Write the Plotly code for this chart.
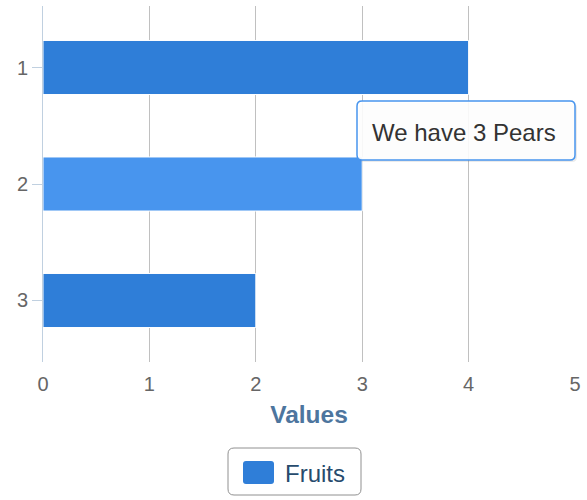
import plotly.graph_objects as go

categories = ["1", "2", "3"]
values = [4, 3, 2]
series_name = "Fruits"
tooltip_text = "We have 3 Pears"
x_ticks = [0, 1, 2, 3, 4, 5]

BASE = "#2f7ed8"
HOVER = "#4895ee"
colors = [HOVER if c == "2" else BASE for c in categories]

W, H = 587, 500
L, R, T, B = 43, 12, 6, 138
PW, PH = W - L - R, H - T - B


def px(x):
    return (x - L) / PW


def py(y):
    return (H - B - y) / PH


def rrect(x0, y0, x1, y1, r):
    # rounded rectangle path in paper coords from pixel coords
    rx, ry = r / PW, r / PH
    a, b, c, d = px(x0), px(x1), py(y0), py(y1)
    return (f"M{a+rx},{c} L{b-rx},{c} Q{b},{c} {b},{c-ry} L{b},{d+ry} Q{b},{d} {b-rx},{d} "
            f"L{a+rx},{d} Q{a},{d} {a},{d+ry} L{a},{c-ry} Q{a},{c} {a+rx},{c} Z")


fig = go.Figure()
fig.add_trace(go.Bar(
    y=categories, x=values, orientation="h", name=series_name,
    marker=dict(color=colors, line=dict(color="white", width=1)),
    showlegend=False, hoverinfo="skip",
))

FONT = "Liberation Sans, Arial, sans-serif"

shapes = [
    # tooltip shadow
    dict(type="path", xref="paper", yref="paper", path=rrect(359, 103, 577, 162, 5),
         fillcolor="rgba(0,0,0,0.08)", line=dict(width=0), layer="above"),
    # tooltip box
    dict(type="path", xref="paper", yref="paper", path=rrect(357, 101, 575, 160, 5),
         fillcolor="rgba(255,255,255,0.9)", line=dict(color=HOVER, width=1.5), layer="above"),
    # legend box
    dict(type="path", xref="paper", yref="paper", path=rrect(228, 448, 361, 495, 6),
         fillcolor="white", line=dict(color="#909090", width=1), layer="above"),
    # legend symbol
    dict(type="path", xref="paper", yref="paper", path=rrect(243, 461, 274, 484, 3),
         fillcolor=BASE, line=dict(width=0), layer="above"),
]

annotations = [
    dict(xref="paper", yref="paper", x=px(370), y=py(132), xanchor="left", yanchor="middle",
         text=tooltip_text, showarrow=False, font=dict(family=FONT, size=24, color="#333333")),
    dict(xref="paper", yref="paper", x=px(283), y=py(473), xanchor="left", yanchor="middle",
         text=series_name, showarrow=False, font=dict(family=FONT, size=24, color="#274b6d")),
]

fig.update_layout(
    width=W, height=H,
    margin=dict(l=L, r=R, t=T, b=B, autoexpand=False),
    paper_bgcolor="white", plot_bgcolor="white",
    bargap=0.536,
    font=dict(family=FONT, color="#666666"),
    shapes=shapes, annotations=annotations,
    xaxis=dict(
        range=[0, 5], tickvals=x_ticks, showgrid=True, gridcolor="#c0c0c0", gridwidth=1,
        zeroline=False, showline=False, ticks="", ticklabelstandoff=8,
        tickfont=dict(size=20, color="#666666"), automargin=False,
        title=dict(text="<b>Values</b>", font=dict(size=24.5, color="#4d759e"), standoff=11),
        fixedrange=True,
    ),
    yaxis=dict(
        range=[2.528, -0.528], showgrid=False, zeroline=False,
        showline=True, linecolor="#c0d0e0", linewidth=1,
        ticks="outside", ticklen=10, tickcolor="#c0d0e0", automargin=False,
        tickfont=dict(size=20, color="#666666"), fixedrange=True,
    ),
)

fig.write_html(
    "out.html",
    config={"displayModeBar": False, "staticPlot": True},
    post_script="document.body.style.margin='0';document.body.style.overflow='hidden';",
)
